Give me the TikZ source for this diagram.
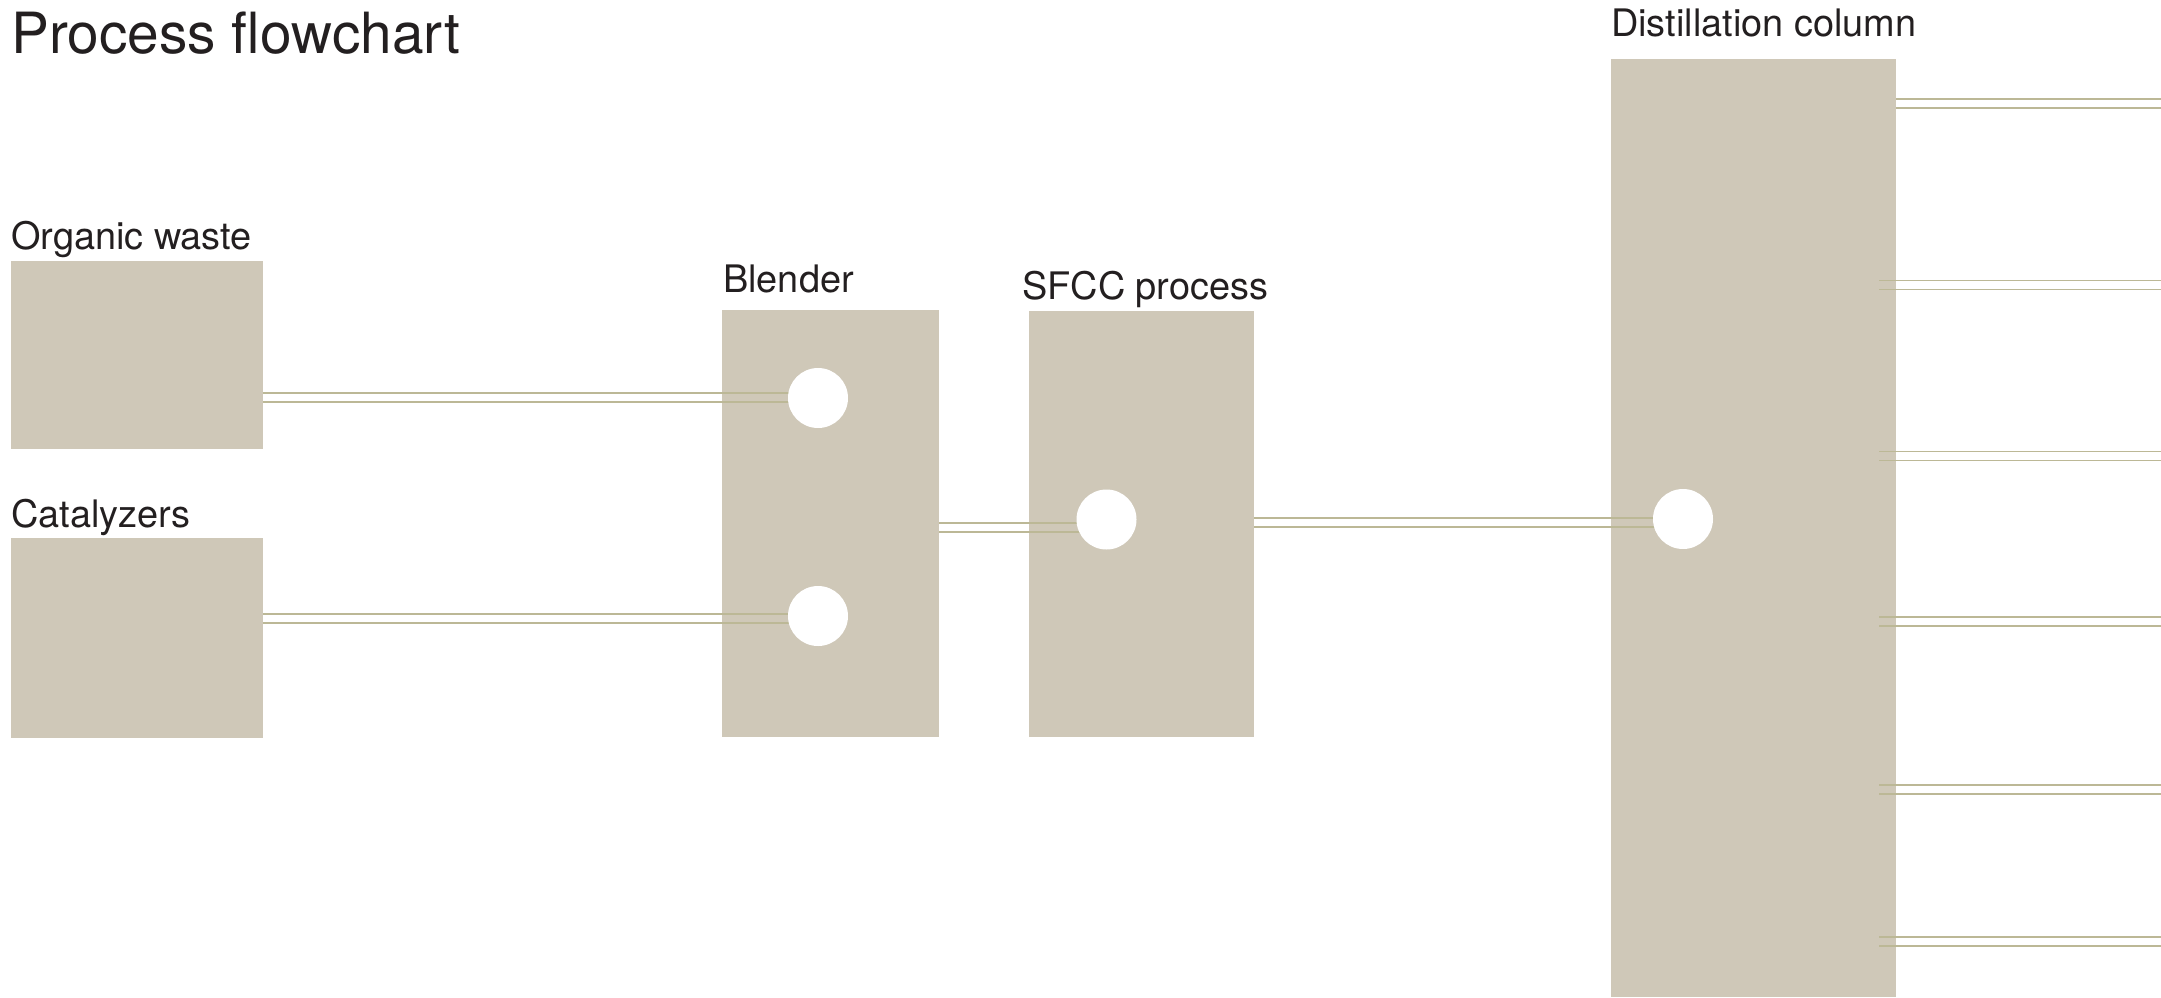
\documentclass[tikz,border=0pt]{standalone}
\usepackage{fontspec}
\setmainfont{TeX Gyre Heros}
\definecolor{boxc}{RGB}{207,200,184}
\definecolor{pipec}{RGB}{188,184,150}
\definecolor{txt}{RGB}{35,31,32}
\begin{document}
\begin{tikzpicture}[x=1pt,y=-1pt,
  unit/.style={fill=boxc, draw=none, inner sep=0pt, anchor=north west},
  port/.style={circle, fill=white, draw=none, minimum size=60pt, inner sep=0pt},
  pipe/.style={draw=pipec, line width=1.8pt},
  lbl/.style={text=txt, inner sep=0pt, anchor=base west, font=\fontsize{37.9}{40}\selectfont},
  ttl/.style={text=txt, inner sep=0pt, anchor=base west, font=\fontsize{56.8}{60}\selectfont}]
\useasboundingbox (0,0) rectangle (2161,997);
% units
\node[unit, minimum width=252pt, minimum height=188pt] (ow) at (11,261) {};
\node[unit, minimum width=252pt, minimum height=200pt] (ca) at (11,538) {};
\node[unit, minimum width=217pt, minimum height=427pt] (bl) at (722,310) {};
\node[unit, minimum width=225pt, minimum height=426pt] (sf) at (1029,311) {};
\node[unit, minimum width=285pt, minimum height=938pt] (dc) at (1611,59) {};
% ports
\coordinate (p1) at (818,398);
\coordinate (p2) at (818,616);
\coordinate (p3) at (1106.5,519.5);
\coordinate (p4) at (1683,519);
% pipes
\draw[pipe] ([yshift=5pt]p1 -| ow.east) -- ([yshift=5pt]p1);
\draw[pipe] ([yshift=-4pt]p1 -| ow.east) -- ([yshift=-4pt]p1);
\draw[pipe] ([yshift=2pt]p2 -| ca.east) -- ([yshift=2pt]p2);
\draw[pipe] ([yshift=-7pt]p2 -| ca.east) -- ([yshift=-7pt]p2);
\draw[pipe] ([yshift=-3.5pt]p3 -| bl.east) -- ([yshift=-3.5pt]p3);
\draw[pipe] ([yshift=-12.5pt]p3 -| bl.east) -- ([yshift=-12.5pt]p3);
\draw[pipe] ([yshift=1pt]p4 -| sf.east) -- ([yshift=1pt]p4);
\draw[pipe] ([yshift=-8pt]p4 -| sf.east) -- ([yshift=-8pt]p4);
% outputs
\coordinate (o1) at (2161,99);
\coordinate (o2) at (2161,280.5);
\coordinate (o3) at (2161,451.5);
\coordinate (o4) at (2161,617);
\coordinate (o5) at (2161,785);
\coordinate (o6) at (2161,937);
\draw[pipe] (o1 -| dc.east) -- (o1);
\draw[pipe] ([yshift=-9pt]o1 -| dc.east) -- ([yshift=-9pt]o1);
\foreach \o in {o2,o3,o4,o5,o6}{
  \draw[pipe] ([xshift=-17pt]\o -| dc.east) -- (\o);
  \draw[pipe] ([xshift=-17pt,yshift=-9pt]\o -| dc.east) -- ([yshift=-9pt]\o);
}
% port circles
\node[port] (c1) at (p1) {};
\node[port] (c2) at (p2) {};
\node[port] (c3) at (p3) {};
\node[port] (c4) at (p4) {};
% labels
\node[ttl] (title) at (11,53) {Process flowchart};
\node[lbl] (low) at (11,249) {Organic waste};
\node[lbl] (lca) at (11,527) {Catalyzers};
\node[lbl] (lbl1) at (723,292) {Blender};
\node[lbl] (lsf) at (1022,299) {SFCC process};
\node[lbl] (ldc) at (1611,36) {Distillation column};
\end{tikzpicture}
\end{document}
